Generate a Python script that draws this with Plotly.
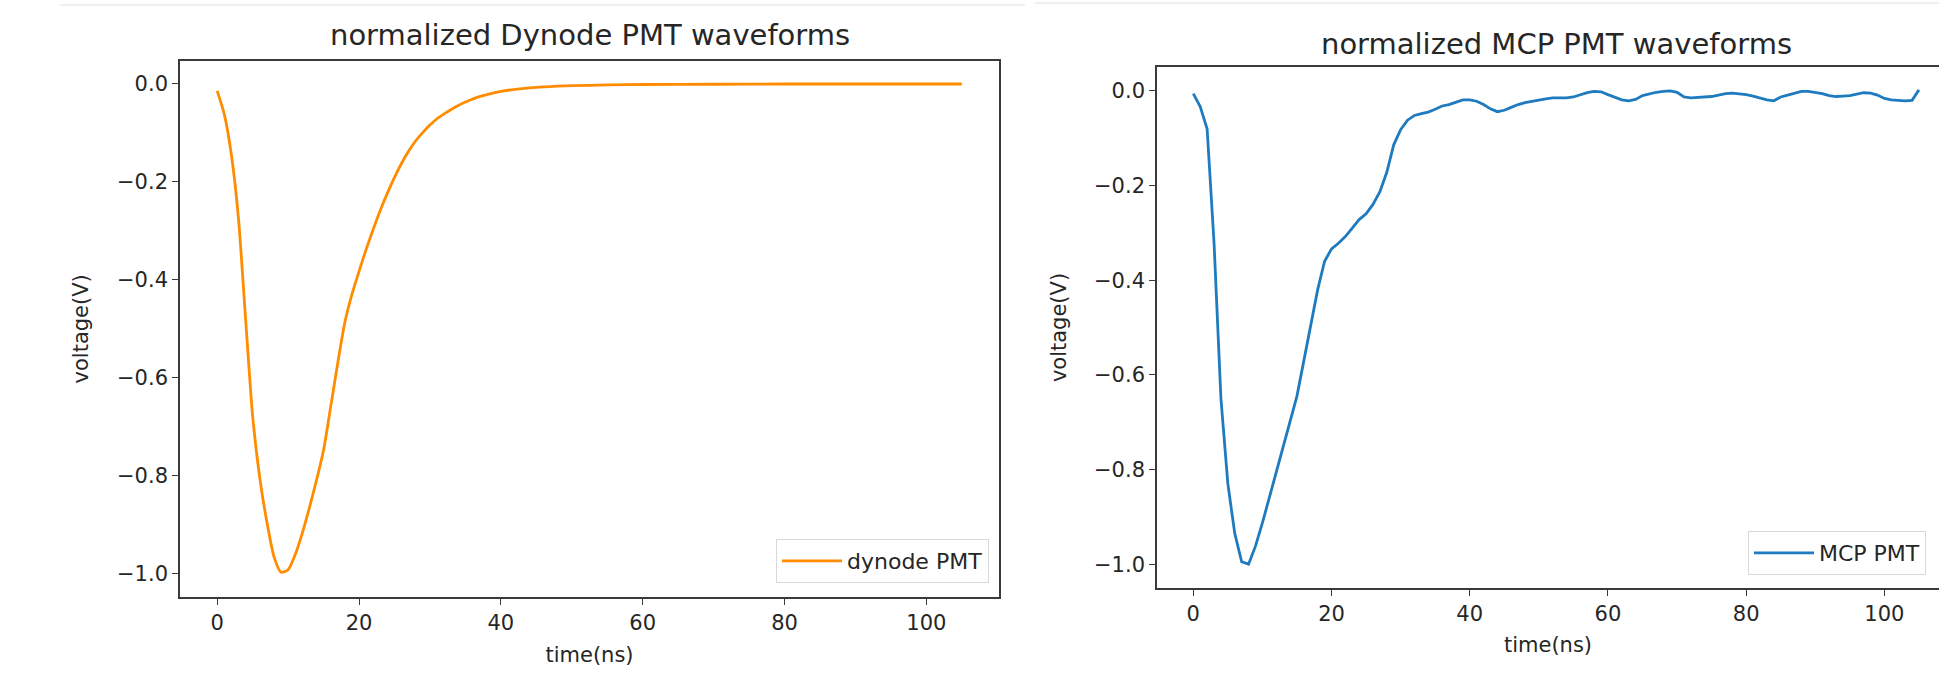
import plotly.graph_objects as go

# ---------------- data ----------------
dyn_t = [0, 1, 2, 3, 4, 5, 6, 7, 8, 9, 10, 11, 12, 13, 14, 15, 16, 17, 18, 19, 20,
         21, 22, 23, 24, 25, 26, 27, 28, 29, 30, 31, 32, 33, 34, 35, 36, 37, 38, 39, 40,
         42, 44, 46, 48, 50, 55, 60, 70, 80, 90, 100, 105]
dyn_v = [-0.014, -0.062, -0.145, -0.275, -0.48, -0.68, -0.805, -0.895, -0.966, -0.998, -0.993,
         -0.962, -0.918, -0.866, -0.81, -0.748, -0.66, -0.57, -0.487, -0.43, -0.383,
         -0.338, -0.297, -0.258, -0.223, -0.191, -0.162, -0.137, -0.116, -0.099, -0.084,
         -0.071, -0.061, -0.052, -0.044, -0.037, -0.031, -0.026, -0.022, -0.018, -0.015,
         -0.011, -0.008, -0.006, -0.0045, -0.0035, -0.002, -0.001, -0.0005, 0.0, 0.0, 0.0, 0.0]

mcp_t = list(range(0, 106))
mcp_v = [-0.006, -0.033, -0.08, -0.32, -0.65, -0.83, -0.935, -0.995, -1.0, -0.962,
         -0.913, -0.86, -0.806, -0.752, -0.70, -0.645, -0.57, -0.495, -0.42, -0.36,
         -0.334, -0.322, -0.308, -0.29, -0.272, -0.26, -0.24, -0.213, -0.172, -0.114,
         -0.082, -0.062, -0.052, -0.048, -0.045, -0.039, -0.032, -0.029, -0.024, -0.019,
         -0.019, -0.022, -0.029, -0.038, -0.044, -0.041, -0.035, -0.029, -0.025, -0.022,
         -0.02, -0.017, -0.015, -0.015, -0.015, -0.013, -0.008, -0.004, -0.001, -0.002,
         -0.008, -0.014, -0.019, -0.021, -0.018, -0.01, -0.006, -0.003, -0.001, 0.0,
         -0.003, -0.013, -0.015, -0.014, -0.014, -0.012, -0.009, -0.006, -0.005, -0.006,
         -0.008, -0.011, -0.015, -0.019, -0.021, -0.013, -0.009, -0.005, -0.001, -0.001,
         -0.003, -0.006, -0.01, -0.012, -0.011, -0.01, -0.007, -0.004, -0.005, -0.009,
         -0.016, -0.019, -0.02, -0.021, -0.02, 0.002]

x_ticks = [0, 20, 40, 60, 80, 100]
x_ticktext = ["0", "20", "40", "60", "80", "100"]
y_ticks = [-1.0, -0.8, -0.6, -0.4, -0.2, 0.0]
y_ticktext = ["\u22121.0", "\u22120.8", "\u22120.6", "\u22120.4", "\u22120.2", "0.0"]

titles = ["normalized Dynode PMT waveforms", "normalized MCP PMT waveforms"]
names = ["dynode PMT", "MCP PMT"]
x_label = "time(ns)"
y_label = "voltage(V)"

# ---------------- figure ----------------
W, H = 1939, 674
FONT = "DejaVu Sans"
TXT = "#262626"
SPINE = "#3a3a3a"

fig = go.Figure()
fig.add_trace(go.Scatter(x=dyn_t, y=dyn_v, mode="lines", name=names[0],
                         line=dict(color="#ff8c00", width=2.8, shape="spline", smoothing=0.6),
                         xaxis="x", yaxis="y", legend="legend"))
fig.add_trace(go.Scatter(x=mcp_t, y=mcp_v, mode="lines", name=names[1],
                         line=dict(color="#1f7bbf", width=2.8),
                         xaxis="x2", yaxis="y2", legend="legend2"))


def px_x(p):
    return p / W


def px_y(p):
    return 1 - p / H


axis_common = dict(showgrid=False, zeroline=False, showline=True, linecolor=SPINE,
                   linewidth=1.6, ticks="outside", ticklen=6, tickwidth=1.4,
                   tickcolor=SPINE, tickfont=dict(family=FONT, size=21, color=TXT))
lab_font = dict(family=FONT, size=21, color=TXT)

fig.update_layout(
    width=W, height=H,
    margin=dict(l=0, r=0, t=0, b=0),
    paper_bgcolor="white", plot_bgcolor="white",
    font=dict(family=FONT, color=TXT),
    xaxis=dict(domain=[px_x(180), px_x(999)], range=[-5.25, 110.25], anchor="y",
               mirror=True, tickvals=x_ticks, ticktext=x_ticktext,
               title=dict(text=x_label, font=lab_font, standoff=14),
               **axis_common),
    yaxis=dict(domain=[px_y(596.7), px_y(61)], range=[-1.048, 0.047], anchor="x",
               mirror=True, tickvals=y_ticks, ticktext=y_ticktext,
               title=dict(text=y_label, font=lab_font, standoff=23),
               **axis_common),
    xaxis2=dict(domain=[px_x(1157), 1.0], range=[-5.25, 107.9], anchor="y2",
                mirror=True, tickvals=x_ticks, ticktext=x_ticktext,
                title=dict(text=x_label, font=lab_font, standoff=12),
                **axis_common),
    yaxis2=dict(domain=[px_y(588.3), px_y(66.7)], range=[-1.051, 0.051], anchor="x2",
                mirror=False, tickvals=y_ticks, ticktext=y_ticktext,
                title=dict(text=y_label, font=lab_font, standoff=22),
                **axis_common),
    legend=dict(x=px_x(989), y=px_y(583), xanchor="right", yanchor="bottom",
                bgcolor="white", bordercolor="#d8d8d8", borderwidth=1,
                font=dict(family=FONT, size=22, color=TXT), itemwidth=60),
    legend2=dict(x=px_x(1748), y=px_y(575), xanchor="left", yanchor="bottom",
                 bgcolor="white", bordercolor="#d8d8d8", borderwidth=1,
                 font=dict(family=FONT, size=22, color=TXT), itemwidth=60),
    showlegend=True,
    annotations=[
        dict(text=titles[0], x=px_x(589.5), y=px_y(35), xref="paper", yref="paper",
             xanchor="center", yanchor="middle", showarrow=False,
             font=dict(family=FONT, size=29, color=TXT)),
        dict(text=titles[1], x=px_x(1556), y=px_y(44), xref="paper", yref="paper",
             xanchor="center", yanchor="middle", showarrow=False,
             font=dict(family=FONT, size=29, color=TXT)),
    ],
    shapes=[
        dict(type="line", xref="paper", yref="paper", x0=px_x(60), x1=px_x(1025),
             y0=px_y(5), y1=px_y(5), line=dict(color="#efefef", width=2)),
        dict(type="line", xref="paper", yref="paper", x0=px_x(1035), x1=1.0,
             y0=px_y(3), y1=px_y(3), line=dict(color="#efefef", width=2)),
    ],
)

fig.write_html("out.html",
               config={"displayModeBar": False},
               post_script="document.body.style.margin='0px';"
                           "document.body.style.overflow='hidden';")
